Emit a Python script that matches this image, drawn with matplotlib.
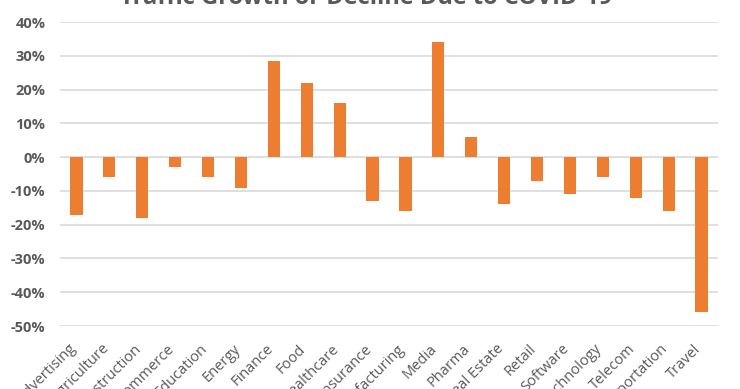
import matplotlib
matplotlib.use("Agg")
import matplotlib.pyplot as plt
import matplotlib.transforms as mtransforms
from matplotlib.ticker import FuncFormatter, MultipleLocator

categories = ["Advertising", "Agriculture", "Construction", "Ecommerce", "Education",
              "Energy", "Finance", "Food", "Healthcare", "Insurance", "Manufacturing",
              "Media", "Pharma", "Real Estate", "Retail", "Software", "Technology",
              "Telecom", "Transportation", "Travel"]
values = [-17, -6, -18, -3, -6, -9, 28.5, 22, 16, -13, -16, 34, 6, -14, -7, -11, -6, -12, -16, -46]
title = "Traffic Growth or Decline Due to COVID-19"

plt.rcParams['font.family'] = ['Open Sans', 'DejaVu Sans']
fig = plt.figure(figsize=(7.4, 3.89), dpi=100)
ax = fig.add_axes([60/740, 1-326/389, (718-60)/740, (326-22)/389])

x = list(range(len(categories)))
ax.bar(x, values, width=0.37, color="#ED7D31", zorder=3)
ax.set_ylim(-50, 40)
ax.set_xlim(-0.5, len(categories)-0.5)
ax.yaxis.set_major_locator(MultipleLocator(10))
ax.yaxis.set_major_formatter(FuncFormatter(lambda v, p: f"{int(round(v))}%"))
ax.grid(axis='y', color="#d9d9d9", linewidth=1.2, zorder=0)
for s in ax.spines.values():
    s.set_visible(False)
ax.tick_params(axis='both', length=0)
ax.tick_params(axis='y', labelsize=10.5, labelcolor="#595959", pad=10.5)
for lab in ax.get_yticklabels():
    lab.set_fontweight('bold')

ax.set_xticks(x)
ax.set_xticklabels(categories, rotation=45, ha='right', va='center',
                   rotation_mode='anchor', fontsize=10.5, color="#595959")
offset = mtransforms.ScaledTranslation(-3/100, -16/100, fig.dpi_scale_trans)
for lab in ax.get_xticklabels():
    lab.set_transform(lab.get_transform() + offset)

fig.text(366/740, 1-4/389, title, ha='center', va='baseline', fontsize=17,
         fontweight='bold', color="#595959")

fig.savefig("out.png", dpi=100, facecolor="white")
